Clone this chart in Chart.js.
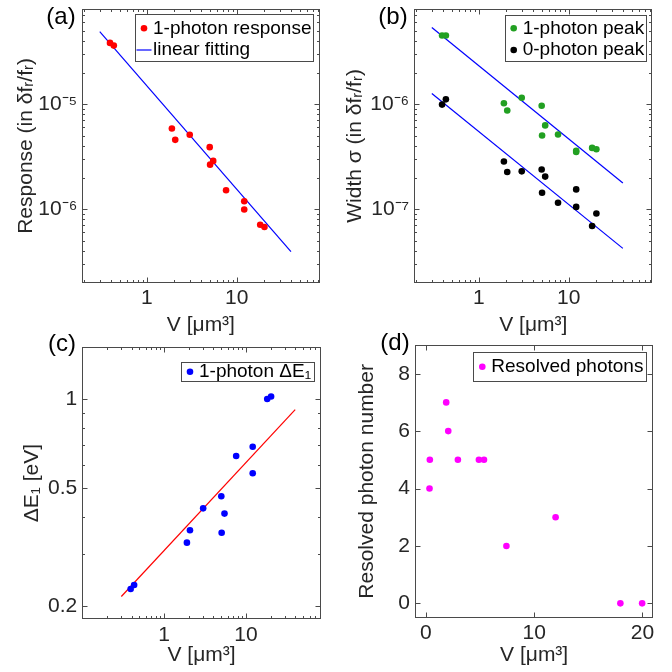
<!DOCTYPE html>
<html>
<head>
<meta charset="utf-8">
<script src="https://cdn.jsdelivr.net/npm/chart.js@4.4.1/dist/chart.umd.min.js"></script>
<style>
  html, body { margin: 0; padding: 0; background: #fff; }
  #wrap { position: relative; width: 672px; height: 672px; }
  #wrap canvas { position: absolute; left: 0; top: 0; }
</style>
</head>
<body>
<div id="wrap">
  <canvas id="pa" width="672" height="672"></canvas>
  <canvas id="pb" width="672" height="672"></canvas>
  <canvas id="pc" width="672" height="672"></canvas>
  <canvas id="pd" width="672" height="672"></canvas>
</div>
<script>
// Data
const vol = [0.39, 0.43, 1.9, 2.07, 3.0, 5.0, 5.05, 5.47, 7.6, 12.1, 12.1, 18.2, 20.3];
const response = [3.83e-5, 3.61e-5, 5.86e-6, 4.57e-6, 5.1e-6, 3.89e-6, 2.65e-6, 2.88e-6, 1.51e-6, 1.19e-6, 9.9e-7, 7.1e-7, 6.76e-7];
const width1 = [4.5e-6, 4.5e-6, 1.02e-6, 8.7e-7, 1.15e-6, 9.66e-7, 5.02e-7, 6.27e-7, 5.14e-7, 3.6e-7, 3.5e-7, 3.83e-7, 3.72e-7];
const width0 = [9.9e-7, 1.11e-6, 2.84e-7, 2.26e-7, 2.29e-7, 2.38e-7, 1.43e-7, 2.04e-7, 1.15e-7, 1.54e-7, 1.05e-7, 6.9e-8, 9.08e-8];
const energy = [0.228, 0.235, 0.327, 0.36, 0.427, 0.469, 0.353, 0.41, 0.642, 0.69, 0.561, 1.0, 1.02];

// fitted lines (end points)
const fitV = [0.3, 40];
const responseFit = [4.9e-5, 3.94e-7];
const width1Fit = [5.37e-6, 1.77e-7];
const width0Fit = [1.26e-6, 4.23e-8];
const energyFit = [0.215, 0.921];

// panel (d)
const volD = [0.37, 0.34, 1.88, 2.07, 2.96, 4.9, 5.37, 7.44, 11.98, 17.96, 19.97];
const photons = [5, 4, 7, 6, 5, 5, 5, 2, 3, 0, 0];

// tick labels
const xTicksLog = [1, 10];
const yTicksA = [1e-6, 1e-5];
const yTicksB = [1e-7, 1e-6];
const yTicksC = [0.2, 0.5, 1];
const xTicksD = [0, 10, 20];
const yTicksD = [0, 2, 4, 6, 8];

const FONT = '"Liberation Sans", Arial, Helvetica, sans-serif';
const AXIS_COLOR = '#4a4a4a';
const TEXT_COLOR = '#262626';
Chart.defaults.font.family = FONT;

const SUP = {'-': '\u207B', '0': '\u2070', '1': '\u00B9', '2': '\u00B2', '3': '\u00B3', '4': '\u2074',
             '5': '\u2075', '6': '\u2076', '7': '\u2077', '8': '\u2078', '9': '\u2079'};
function pow10Label(v) {
    const e = Math.round(Math.log10(v));
    return '10' + String(e).split('').map(c => SUP[c]).join('');
}
function plainLabel(v) { return String(v); }

// log ticks: majors from list, minors at 2..9 x 10^n
function logTicks(min, max, majors) {
    const out = [];
    for (let e = Math.floor(Math.log10(min)); e <= Math.ceil(Math.log10(max)); e++) {
        for (let k = 1; k <= 9; k++) {
            const v = parseFloat((k * Math.pow(10, e)).toPrecision(6));
            if (v < min * 0.9999 || v > max * 1.0001) continue;
            out.push({ value: v, major: majors.some(m => Math.abs(m - v) < m * 1e-6) });
        }
    }
    return out;
}
function linTicks(majors) { return majors.map(v => ({ value: v, major: true })); }

function pts(xs, ys) { return xs.map((x, i) => ({ x: x, y: ys[i] })); }

function axis(type, min, max, ticks, fmt, title, titlePad, size, isX) {
    return {
        type: type, min: min, max: max,
        grid: { display: false, drawTicks: false },
        border: { display: false },
        afterBuildTicks: s => { s.ticks = ticks.map(t => ({ value: t.value, major: t.major })); },
        afterFit: s => {
            if (isX) s.height = size; else s.width = size;
            s.paddingTop = 0; s.paddingBottom = 0; s.paddingLeft = 0; s.paddingRight = 0;
        },
        ticks: {
            autoSkip: false, maxRotation: 0, minRotation: 0,
            padding: isX ? 3 : 5, color: TEXT_COLOR, font: { size: 21 },
            callback: (v, i, arr) => arr[i].major ? fmt(v) : ''
        },
        title: {
            display: true, text: title, color: TEXT_COLOR, font: { size: 21 },
            padding: isX ? { top: 0, bottom: titlePad } : { top: titlePad, bottom: 0 }
        }
    };
}

// box, inner ticks on all sides, legend and panel tag
const axesBox = {
    id: 'axesBox',
    afterDraw(chart) {
        const ctx = chart.ctx, a = chart.chartArea;
        const L = Math.round(a.left) + 0.5, R = Math.round(a.right) - 0.5;
        const T = Math.round(a.top) + 0.5, B = Math.round(a.bottom) - 0.5;
        ctx.save();
        ctx.strokeStyle = AXIS_COLOR;
        ctx.lineWidth = 1;
        ctx.strokeRect(L, T, R - L, B - T);
        ['x', 'y'].forEach(id => {
            const s = chart.scales[id];
            s.ticks.forEach(t => {
                const p = Math.round(s.getPixelForValue(t.value)) + 0.5;
                const len = t.major ? 5 : 2.5;
                ctx.beginPath();
                if (id === 'x') {
                    if (p < L || p > R) return;
                    ctx.moveTo(p, B); ctx.lineTo(p, B - len);
                    ctx.moveTo(p, T); ctx.lineTo(p, T + len);
                } else {
                    if (p < T || p > B) return;
                    ctx.moveTo(L, p); ctx.lineTo(L + len, p);
                    ctx.moveTo(R, p); ctx.lineTo(R - len, p);
                }
                ctx.stroke();
            });
        });

        const lg = chart.options.plugins.boxLegend;
        if (lg) {
            const [l, t, r, b] = lg.box;
            ctx.fillStyle = '#fff';
            ctx.fillRect(l, t, r - l, b - t);
            ctx.strokeStyle = AXIS_COLOR;
            ctx.strokeRect(Math.round(l) + 0.5, Math.round(t) + 0.5, Math.round(r - l), Math.round(b - t));
            ctx.font = '19px ' + FONT;
            ctx.textBaseline = 'middle';
            ctx.textAlign = 'left';
            lg.items.forEach((di, i) => {
                const ds = chart.data.datasets[di];
                const cy = lg.rows[i], sx = l + 9;
                if (ds.showLine) {
                    ctx.strokeStyle = ds.borderColor;
                    ctx.lineWidth = ds.borderWidth;
                    ctx.beginPath(); ctx.moveTo(sx - 7.5, cy); ctx.lineTo(sx + 7.5, cy); ctx.stroke();
                } else {
                    ctx.fillStyle = ds.backgroundColor;
                    ctx.beginPath(); ctx.arc(sx, cy, ds.pointRadius, 0, 2 * Math.PI); ctx.fill();
                }
                ctx.fillStyle = '#000';
                ctx.fillText(ds.label, l + 18, cy);
            });
        }

        const tag = chart.options.plugins.panelTag;
        if (tag) {
            ctx.font = '24px ' + FONT;
            ctx.fillStyle = '#000';
            ctx.textAlign = 'center';
            ctx.textBaseline = 'middle';
            ctx.fillText(tag.text, tag.x, tag.y);
        }
        ctx.restore();
    }
};

function dots(label, xs, ys, color) {
    return { label: label, data: pts(xs, ys), showLine: false, pointRadius: 3.3,
             backgroundColor: color, pointBackgroundColor: color, pointBorderWidth: 0, borderColor: color };
}
function fitLine(label, xs, ys, color) {
    return { label: label, data: pts(xs, ys), showLine: true, pointRadius: 0,
             borderColor: color, borderWidth: 1.2, backgroundColor: color };
}

// area = chart area in page pixels; yTitleX / xTitleY = title centre
function panel(id, area, yTitleX, xTitleY, xh, datasets, xAxis, yAxis, legend, tag) {
    const yw = 80, lh = 21 * 1.2;
    const xs = axis(xAxis.type, xAxis.min, xAxis.max, xAxis.ticks, xAxis.fmt, xAxis.title,
                    area.b + xh - xTitleY - lh / 2, xh, true);
    const ys = axis(yAxis.type, yAxis.min, yAxis.max, yAxis.ticks, yAxis.fmt, yAxis.title,
                    yTitleX - (area.l - yw) - lh / 2, yw, false);
    new Chart(document.getElementById(id), {
        type: 'scatter',
        data: { datasets: datasets },
        options: {
            responsive: false, animation: false,
            layout: { padding: { left: area.l - yw, top: area.t, right: 672 - area.r, bottom: 672 - area.b - xh } },
            scales: { x: xs, y: ys },
            plugins: { legend: { display: false }, tooltip: { enabled: false }, boxLegend: legend, panelTag: tag }
        },
        plugins: [axesBox]
    });
}

const xTitle = 'V [\u03BCm\u00B3]';

panel('pa', { l: 82.3, t: 9.3, r: 319.5, b: 282.5 }, 26, 325, 56,
    [dots('1-photon response', vol, response, '#ff0000'),
     fitLine('linear fitting', fitV, responseFit, '#0000ff')],
    { type: 'logarithmic', min: 0.192, max: 83, ticks: logTicks(0.192, 83, xTicksLog), fmt: plainLabel, title: xTitle },
    { type: 'logarithmic', min: 2e-7, max: 8e-5, ticks: logTicks(2e-7, 8e-5, yTicksA), fmt: pow10Label,
      title: 'Response (in \u03B4f\u1D63/f\u1D63)' },
    { box: [135, 14.3, 313.3, 61], rows: [28.3, 50], items: [0, 1] },
    { text: '(a)', x: 61, y: 17 });

panel('pb', { l: 414.2, t: 9.3, r: 652.3, b: 282.5 }, 355, 325, 56,
    [dots('1-photon peak', vol, width1, '#22a022'),
     dots('0-photon peak', vol, width0, '#000000'),
     fitLine('fit 1', fitV, width1Fit, '#0000ff'),
     fitLine('fit 0', fitV, width0Fit, '#0000ff')],
    { type: 'logarithmic', min: 0.191, max: 85, ticks: logTicks(0.191, 85, xTicksLog), fmt: plainLabel, title: xTitle },
    { type: 'logarithmic', min: 2e-8, max: 8e-6, ticks: logTicks(2e-8, 8e-6, yTicksB), fmt: pow10Label,
      title: 'Width \u03C3 (in \u03B4f\u1D63/f\u1D63)' },
    { box: [504.7, 15, 646, 61], rows: [28.3, 50], items: [0, 1] },
    { text: '(b)', x: 393, y: 17 });

panel('pc', { l: 82.3, t: 347, r: 320.7, b: 619.3 }, 32, 655, 50,
    [dots('1-photon \u0394E\u2081', vol, energy, '#0000ff'),
     fitLine('fit', fitV, energyFit, '#ff0000')],
    { type: 'logarithmic', min: 0.1, max: 82, ticks: logTicks(0.1, 82, xTicksLog), fmt: plainLabel, title: xTitle },
    { type: 'logarithmic', min: 0.18, max: 1.5, ticks: logTicks(0.18, 1.5, yTicksC), fmt: plainLabel,
      title: '\u0394E\u2081 [eV]' },
    { box: [181, 362.3, 314.3, 381], rows: [371.7], items: [0] },
    { text: '(c)', x: 62, y: 344 });

panel('pd', { l: 415, t: 345, r: 653.3, b: 617.7 }, 367.5, 655, 50,
    [dots('Resolved photons', volD, photons, '#ff00ff')],
    { type: 'linear', min: -1, max: 21, ticks: linTicks(xTicksD), fmt: plainLabel, title: xTitle },
    { type: 'linear', min: -0.5, max: 9, ticks: linTicks(yTicksD), fmt: plainLabel, title: 'Resolved photon number' },
    { box: [473.3, 351.7, 646.7, 381], rows: [366.7], items: [0] },
    { text: '(d)', x: 395, y: 343 });
</script>
</body>
</html>
